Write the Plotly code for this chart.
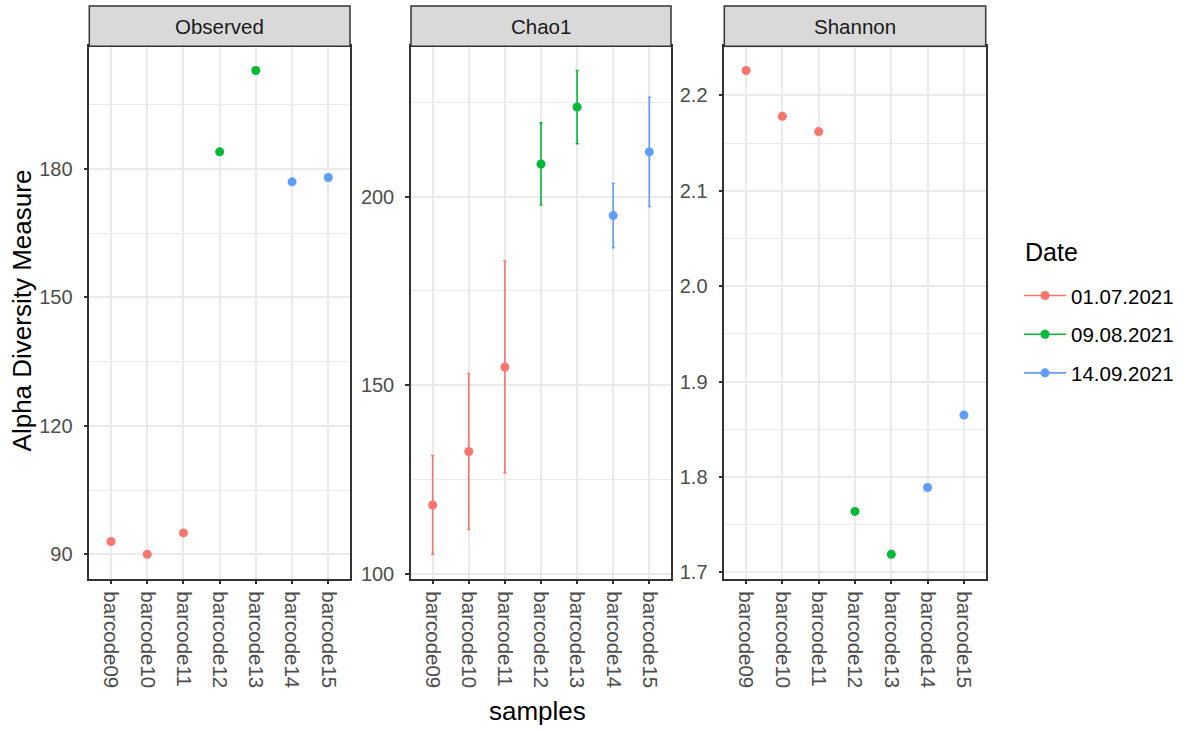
import plotly.graph_objects as go

# ---------------- data ----------------
samples = ["barcode09", "barcode10", "barcode11", "barcode12", "barcode13", "barcode14", "barcode15"]
dates = ["01.07.2021", "01.07.2021", "01.07.2021", "09.08.2021", "09.08.2021", "14.09.2021", "14.09.2021"]
date_levels = ["01.07.2021", "09.08.2021", "14.09.2021"]
date_colors = ["#F8766D", "#00BA38", "#619CFF"]

observed = [93, 90, 95, 184, 203, 177, 178]
chao1 = [118.2, 132.4, 154.8, 208.7, 223.8, 195.0, 211.9]
chao1_se = [13.1, 20.7, 28.1, 10.9, 9.7, 8.5, 14.5]
shannon = [2.226, 2.178, 2.162, 1.764, 1.719, 1.789, 1.865]

measures = ["Observed", "Chao1", "Shannon"]
major_ticks = [[90, 120, 150, 180], [100, 150, 200], [1.7, 1.8, 1.9, 2.0, 2.1, 2.2]]
major_labels = [["90", "120", "150", "180"], ["100", "150", "200"], ["1.7", "1.8", "1.9", "2.0", "2.1", "2.2"]]
minor_step = [15, 25, 0.05]

# ---------------- layout geometry ----------------
W, H = 1190, 731
FONT = "Liberation Sans, Arial, sans-serif"
panels_px = [(89.3, 350.0), (411.0, 671.0), (724.3, 985.7)]
plot_top_px, plot_bot_px = 46.7, 583.3
strip_top_px = 6.0
y0 = (H - plot_bot_px) / H
y1 = (H - plot_top_px) / H
ys = (H - strip_top_px) / H

values = [observed, chao1, shannon]
errors = [None, chao1_se, None]

fig = go.Figure()

for p, (vals, errs) in enumerate(zip(values, errors)):
    xa = "x" if p == 0 else f"x{p+1}"
    ya = "y" if p == 0 else f"y{p+1}"
    for d, col in zip(date_levels, date_colors):
        idx = [i for i, dd in enumerate(dates) if dd == d]
        tr = dict(
            x=[samples[i] for i in idx],
            y=[vals[i] for i in idx],
            mode="markers",
            marker=dict(color=col, size=9),
            xaxis=xa, yaxis=ya,
            showlegend=False,
            name=d,
        )
        if errs is not None:
            tr["error_y"] = dict(type="data", array=[errs[i] for i in idx], symmetric=True,
                                 color=col, thickness=1.6, width=1.5)
        fig.add_trace(go.Scatter(**tr))

# legend-only entries (line + point like ggplot)
for d, col in zip(date_levels, date_colors):
    fig.add_trace(go.Scatter(x=[None], y=[None], mode="lines+markers", name=d,
                             line=dict(color=col, width=1.6), marker=dict(color=col, size=9),
                             xaxis="x3", yaxis="y3", legendgroup=d, showlegend=True))

layout = dict(
    width=W, height=H,
    margin=dict(l=0, r=0, t=0, b=0),
    paper_bgcolor="white", plot_bgcolor="white",
    font=dict(family=FONT, color="#000000"),
    showlegend=True,
    legend=dict(
        font=dict(size=20.5, color="#000000", family=FONT),
        x=1019 / W, xanchor="left", y=(H - 278) / H, yanchor="top",
        tracegroupgap=9, bgcolor="rgba(0,0,0,0)", itemwidth=42,
    ),
)

shapes = []
annotations = []
for p in range(3):
    xl, xr = panels_px[p]
    sfx = "" if p == 0 else str(p + 1)
    vals = values[p]
    errs = errors[p]
    lo = min(v - (errs[i] if errs else 0) for i, v in enumerate(vals))
    hi = max(v + (errs[i] if errs else 0) for i, v in enumerate(vals))
    pad = (hi - lo) * 0.05
    layout["xaxis" + sfx] = dict(
        domain=[xl / W, xr / W], anchor="y" + sfx,
        type="category", categoryorder="array", categoryarray=samples,
        range=[-0.6, 6.6],
        showgrid=True, gridcolor="#EBEBEB", gridwidth=1.6,
        ticks="outside", ticklen=4, tickwidth=1.5, tickcolor="#333333",
        tickangle=90, tickfont=dict(size=20.5, color="#4D4D4D", family=FONT),
        ticklabelstandoff=3,
        showline=True, linecolor="#333333", linewidth=1.5, mirror=True,
        zeroline=False, fixedrange=True,
    )
    layout["yaxis" + sfx] = dict(
        domain=[y0, y1], anchor="x" + sfx,
        range=[lo - pad, hi + pad],
        tickmode="array", tickvals=major_ticks[p], ticktext=major_labels[p],
        showgrid=True, gridcolor="#EBEBEB", gridwidth=1.6,
        minor=dict(showgrid=True, gridcolor="#EBEBEB", gridwidth=0.9,
                   tick0=major_ticks[p][0], dtick=minor_step[p], ticks=""),
        ticks="outside", ticklen=4, tickwidth=1.5, tickcolor="#333333",
        tickfont=dict(size=20, color="#4D4D4D", family=FONT),
        ticklabelstandoff=7,
        showline=True, linecolor="#333333", linewidth=1.5, mirror=True,
        zeroline=False, fixedrange=True,
    )
    shapes.append(dict(type="rect", xref="paper", yref="paper",
                       x0=xl / W, x1=xr / W, y0=y1, y1=ys,
                       fillcolor="#D9D9D9", line=dict(color="#333333", width=1.5), layer="above"))
    annotations.append(dict(text=measures[p], xref="paper", yref="paper",
                            x=(xl + xr) / 2 / W, y=(y1 + ys) / 2,
                            xanchor="center", yanchor="middle", showarrow=False,
                            font=dict(size=20.5, color="#1A1A1A", family=FONT)))

annotations.append(dict(text="Alpha Diversity Measure", xref="paper", yref="paper",
                        x=22 / W, y=(H - 313) / H, textangle=-90,
                        xanchor="center", yanchor="middle", showarrow=False,
                        font=dict(size=26, color="#000000", family=FONT)))
annotations.append(dict(text="samples", xref="paper", yref="paper",
                        x=537 / W, y=(H - 717) / H,
                        xanchor="center", yanchor="middle", showarrow=False,
                        font=dict(size=26, color="#000000", family=FONT)))
annotations.append(dict(text="Date", xref="paper", yref="paper",
                        x=1023 / W, y=(H - 254) / H,
                        xanchor="left", yanchor="middle", showarrow=False,
                        font=dict(size=25, color="#000000", family=FONT)))

layout["shapes"] = shapes
layout["annotations"] = annotations
fig.update_layout(**layout)

fig.write_html("out.html")
